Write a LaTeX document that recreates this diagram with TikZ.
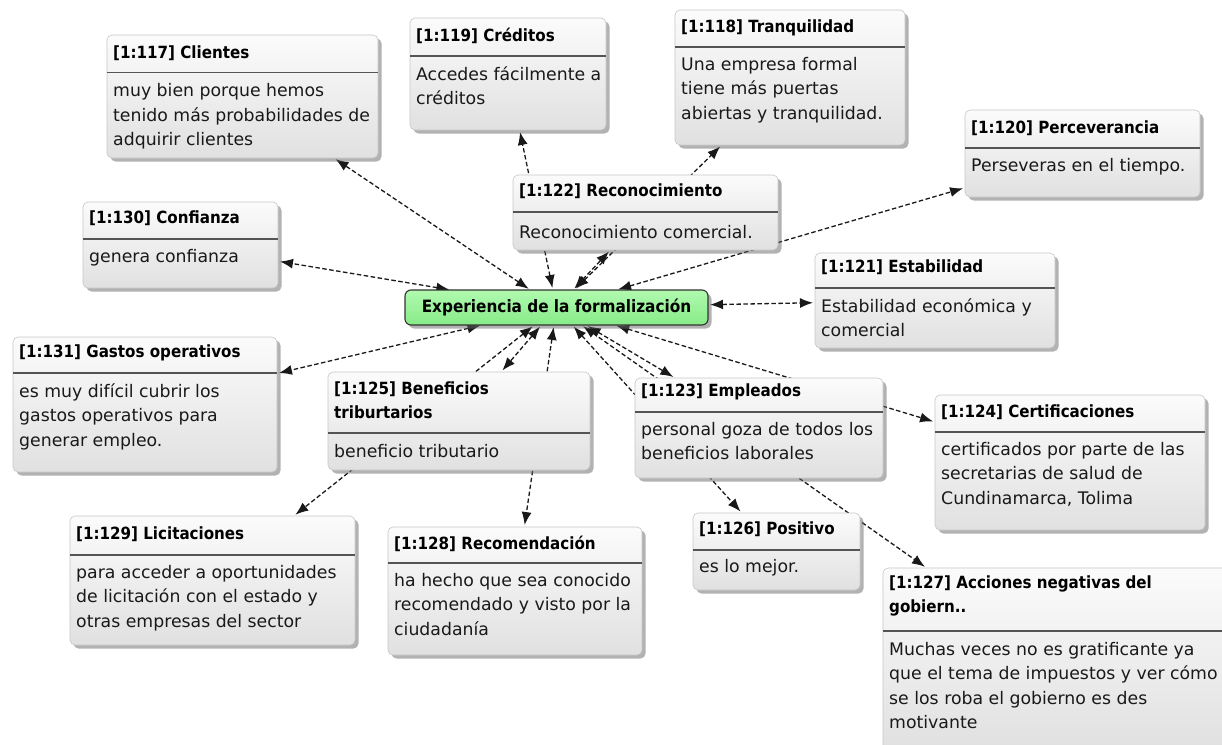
\documentclass[tikz,border=0pt]{standalone}
\usepackage{fontspec}
\setmainfont{DejaVu Sans}
\newfontfamily\condfont{DejaVu Sans Condensed}
\usetikzlibrary{arrows.meta,shadows,backgrounds}

\definecolor{cardtop}{rgb}{0.985000, 0.985000, 0.985000}
\definecolor{cardbottom}{rgb}{0.880000, 0.880000, 0.880000}
\definecolor{cardline}{rgb}{0.780000, 0.780000, 0.780000}
\definecolor{sepline}{rgb}{0.330000, 0.330000, 0.330000}
\definecolor{hubtop}{rgb}{0.690000, 0.980000, 0.690000}
\definecolor{hubbottom}{rgb}{0.530000, 0.920000, 0.530000}
\definecolor{linkcolor}{rgb}{0.100000, 0.100000, 0.100000}

\begin{document}
\begin{tikzpicture}[x=1pt,y=-1pt,
  card/.style={rectangle, rounded corners=5pt, draw=cardline, line width=0.6pt,
    top color=cardtop, bottom color=cardbottom, inner sep=0pt, outer sep=0pt,
    anchor=north west,
    drop shadow={shadow xshift=3.5pt, shadow yshift=-3.5pt, fill=black!60}},
  hub/.style={rectangle, rounded corners=6pt, draw=black!80, line width=1.1pt,
    top color=hubtop, bottom color=hubbottom, inner sep=0pt, outer sep=0pt,
    minimum width=303pt, minimum height=35pt,
    font=\condfont\bfseries\fontsize{17}{20}\selectfont,
    drop shadow={shadow xshift=3.5pt, shadow yshift=-3.5pt, fill=black!60}},
  ttl/.style={anchor=north west, inner sep=0pt, align=left,
    font=\condfont\bfseries\fontsize{16.8}{24.5}\selectfont},
  txt/.style={anchor=north west, inner sep=0pt, align=left, text=black!90,
    font=\fontsize{17.3}{24.5}\selectfont},
  sep/.style={draw=sepline, line width=1.5pt},
  link/.style={dash pattern=on 4.5pt off 2.5pt, line width=1.3pt, draw=linkcolor,
    {Latex[length=13pt,width=10pt]}-{Latex[length=13pt,width=10pt]},
    shorten <=2pt, shorten >=2pt}]
\useasboundingbox (0,0) rectangle (1222,744);

% central code
\node[hub] (exp) at (556.5,307.5) {Experiencia de la formalización};

% [1:117]
\node[card, minimum width=271pt, minimum height=123pt] (cli) at (107,35) {};
\node[ttl] (cli-t) at (113,40.85) {\strut[1:117] Clientes};
\draw[sep] (107,72.5) -- (378,72.5);
\node[txt] (cli-b) at (113,79.55) {\strut muy bien porque hemos\\\strut tenido más probabilidades de\\\strut adquirir clientes};

% [1:119]
\node[card, minimum width=196pt, minimum height=112pt] (cre) at (410,18) {};
\node[ttl] (cre-t) at (416,23.85) {\strut[1:119] Créditos};
\draw[sep] (410,56) -- (606,56);
\node[txt] (cre-b) at (416,62.85) {\strut Accedes fácilmente a\\\strut créditos};

% [1:118]
\node[card, minimum width=230pt, minimum height=135pt] (tra) at (675,10) {};
\node[ttl] (tra-t) at (681,14.85) {\strut[1:118] Tranquilidad};
\draw[sep] (675,47) -- (905,47);
\node[txt] (tra-b) at (681,52.85) {\strut Una empresa formal\\\strut tiene más puertas\\\strut abiertas y tranquilidad.};

% [1:120]
\node[card, minimum width=235pt, minimum height=87pt] (per) at (965,110) {};
\node[ttl] (per-t) at (971,115.85) {\strut[1:120] Perceverancia};
\draw[sep] (965,148) -- (1200,148);
\node[txt] (per-b) at (971,153.85) {\strut Perseveras en el tiempo.};

% [1:122]
\node[card, minimum width=265pt, minimum height=75pt] (rec) at (513,175) {};
\node[ttl] (rec-t) at (519,178.85) {\strut[1:122] Reconocimiento};
\draw[sep] (513,212) -- (778,212);
\node[txt] (rec-b) at (519,220.85) {\strut Reconocimiento comercial.};

% [1:130]
\node[card, minimum width=195pt, minimum height=86pt] (con) at (83,202) {};
\node[ttl] (con-t) at (89,205.85) {\strut[1:130] Confianza};
\draw[sep] (83,239) -- (278,239);
\node[txt] (con-b) at (89,244.85) {\strut genera confianza};

% [1:121]
\node[card, minimum width=240pt, minimum height=95pt] (est) at (815,253) {};
\node[ttl] (est-t) at (821,254.85) {\strut[1:121] Estabilidad};
\draw[sep] (815,288) -- (1055,288);
\node[txt] (est-b) at (821,294.85) {\strut Estabilidad económica y\\\strut comercial};

% [1:131]
\node[card, minimum width=264pt, minimum height=135pt] (gas) at (13,337) {};
\node[ttl] (gas-t) at (19,339.85) {\strut[1:131] Gastos operativos};
\draw[sep] (13,373) -- (277,373);
\node[txt] (gas-b) at (19,379.85) {\strut es muy difícil cubrir los\\\strut gastos operativos para\\\strut generar empleo.};

% [1:125]
\node[card, minimum width=262pt, minimum height=98pt] (ben) at (328,372) {};
\node[ttl] (ben-t) at (334,376.85) {\strut[1:125] Beneficios\\\strut triburtarios};
\draw[sep] (328,433) -- (590,433);
\node[txt] (ben-b) at (334,439.85) {\strut beneficio tributario};

% [1:123]
\node[card, minimum width=248pt, minimum height=100pt] (emp) at (635,378) {};
\node[ttl] (emp-t) at (641,378.85) {\strut[1:123] Empleados};
\draw[sep] (635,412) -- (883,412);
\node[txt] (emp-b) at (641,417.85) {\strut personal goza de todos los\\\strut beneficios laborales};

% [1:124]
\node[card, minimum width=270pt, minimum height=135pt] (cer) at (935,395) {};
\node[ttl] (cer-t) at (941,399.85) {\strut[1:124] Certificaciones};
\draw[sep] (935,432) -- (1205,432);
\node[txt] (cer-b) at (941,437.85) {\strut certificados por parte de las\\\strut secretarias de salud de\\\strut Cundinamarca, Tolima};

% [1:129]
\node[card, minimum width=285pt, minimum height=129pt] (lic) at (70,516) {};
\node[ttl] (lic-t) at (76,521.85) {\strut[1:129] Licitaciones};
\draw[sep] (70,555) -- (355,555);
\node[txt] (lic-b) at (76,560.85) {\strut para acceder a oportunidades\\\strut de licitación con el estado y\\\strut otras empresas del sector};

% [1:128]
\node[card, minimum width=254pt, minimum height=128pt] (rcm) at (388,527) {};
\node[ttl] (rcm-t) at (394,531.85) {\strut[1:128] Recomendación};
\draw[sep] (388,563) -- (642,563);
\node[txt] (rcm-b) at (394,568.85) {\strut ha hecho que sea conocido\\\strut recomendado y visto por la\\\strut ciudadanía};

% [1:126]
\node[card, minimum width=167pt, minimum height=77pt] (pos) at (693,513) {};
\node[ttl] (pos-t) at (699,516.85) {\strut[1:126] Positivo};
\draw[sep] (693,550) -- (860,550);
\node[txt] (pos-b) at (699,554.85) {\strut es lo mejor.};

% [1:127]
\node[card, minimum width=345pt, minimum height=182pt] (acc) at (883,568) {};
\node[ttl] (acc-t) at (889,570.85) {\strut[1:127] Acciones negativas del\\\strut gobiern..};
\draw[sep] (883,631) -- (1228,631);
\node[txt] (acc-b) at (889,637.85) {\strut Muchas veces no es gratificante ya\\\strut que el tema de impuestos y ver cómo\\\strut se los roba el gobierno es des\\\strut motivante};

% links, behind the cards
\begin{pgfonlayer}{background}
\fill[white] (0,0) rectangle (1222,744);
\draw[link] (exp) -- (cli);
\draw[link] (exp) -- (cre);
\draw[link] (exp) -- (tra);
\draw[link] (exp) -- (per);
\draw[link] (exp) -- (rec);
\draw[link] (exp) -- (con);
\draw[link] (exp) -- (est);
\draw[link] (exp) -- (gas);
\draw[link] (exp) -- (ben);
\draw[link] (exp) -- (emp);
\draw[link] (exp) -- (cer);
\draw[link] (exp) -- (lic);
\draw[link] (exp) -- (rcm);
\draw[link] (exp) -- (pos);
\draw[link] (exp) -- (acc);
\end{pgfonlayer}
\end{tikzpicture}
\end{document}
